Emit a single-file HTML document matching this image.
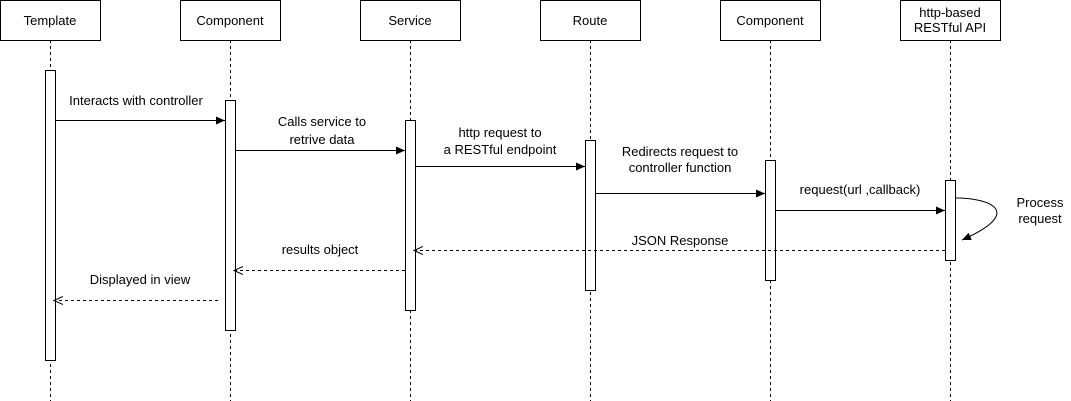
<!DOCTYPE html>
<html><head><style>body{margin:0;background:#fff}svg{display:block}text{font-family:"Liberation Sans",Arial,sans-serif;font-size:13px;fill:#000}</style></head><body>
<svg width="1071" height="401" viewBox="0 0 1071 401">
<defs>
<marker id="f" markerWidth="10" markerHeight="10" refX="9" refY="5" orient="auto" markerUnits="userSpaceOnUse"><path d="M0,1 L9,5 L0,9 Z" fill="#000"/></marker>
<marker id="o" markerWidth="10" markerHeight="10" refX="9" refY="5" orient="auto" markerUnits="userSpaceOnUse"><path d="M0,1 L9,5 L0,9" fill="none" stroke="#000"/></marker>
</defs>
<g stroke="#000" stroke-dasharray="3,3" fill="none">
<line x1="50.5" y1="40" x2="50.5" y2="401"/><line x1="230.5" y1="40" x2="230.5" y2="401"/><line x1="410.5" y1="40" x2="410.5" y2="401"/><line x1="590.5" y1="40" x2="590.5" y2="401"/><line x1="770.5" y1="40" x2="770.5" y2="401"/><line x1="950.5" y1="40" x2="950.5" y2="401"/>
</g>
<g stroke="#000" fill="#fff">
<rect x="0.5" y="0.5" width="100" height="40"/><rect x="180.5" y="0.5" width="100" height="40"/><rect x="360.5" y="0.5" width="100" height="40"/><rect x="540.5" y="0.5" width="100" height="40"/><rect x="720.5" y="0.5" width="100" height="40"/><rect x="900.5" y="0.5" width="100" height="40"/>
<rect x="45.5" y="70.5" width="10" height="290"/><rect x="225.5" y="100.5" width="10" height="230"/><rect x="405.5" y="120.5" width="10" height="190"/><rect x="585.5" y="140.5" width="10" height="150"/><rect x="765.5" y="160.5" width="10" height="120"/><rect x="945.5" y="180.5" width="10" height="80"/>
</g>
<g text-anchor="middle">
<text x="50" y="25">Template</text><text x="230" y="25">Component</text><text x="410" y="25">Service</text><text x="590" y="25">Route</text><text x="770" y="25">Component</text><text x="950" y="17">http-based</text><text x="950" y="32">RESTful API</text>
<text x="136" y="105">Interacts with controller</text>
<text x="322" y="126">Calls service to</text><text x="322" y="144">retrive data</text>
<text x="500" y="137">http request to</text><text x="500" y="154">a RESTful endpoint</text>
<text x="680" y="156">Redirects request to</text><text x="680" y="172">controller function</text>
<text x="860" y="194">request(url ,callback)</text>
<text x="1040" y="207">Process</text><text x="1040" y="223">request</text>
<text x="680" y="245">JSON Response</text>
<text x="320" y="254">results object</text>
<text x="140" y="284">Displayed in view</text>
</g>
<g stroke="#000" fill="none">
<line x1="56" y1="120.5" x2="225" y2="120.5" marker-end="url(#f)"/>
<line x1="236" y1="150.5" x2="405" y2="150.5" marker-end="url(#f)"/>
<line x1="416" y1="166.5" x2="585" y2="166.5" marker-end="url(#f)"/>
<line x1="596" y1="193.5" x2="765" y2="193.5" marker-end="url(#f)"/>
<line x1="776" y1="210.5" x2="945" y2="210.5" marker-end="url(#f)"/>
<path d="M956,198 C990,198 1025,212 962,240" marker-end="url(#f)"/>
<g stroke-dasharray="3,3">
<line x1="945" y1="250.5" x2="414" y2="250.5" marker-end="url(#o)"/>
<line x1="405" y1="270.5" x2="234" y2="270.5" marker-end="url(#o)"/>
<line x1="218" y1="300.5" x2="54" y2="300.5" marker-end="url(#o)"/>
</g>
</g>
</svg>
</body></html>
